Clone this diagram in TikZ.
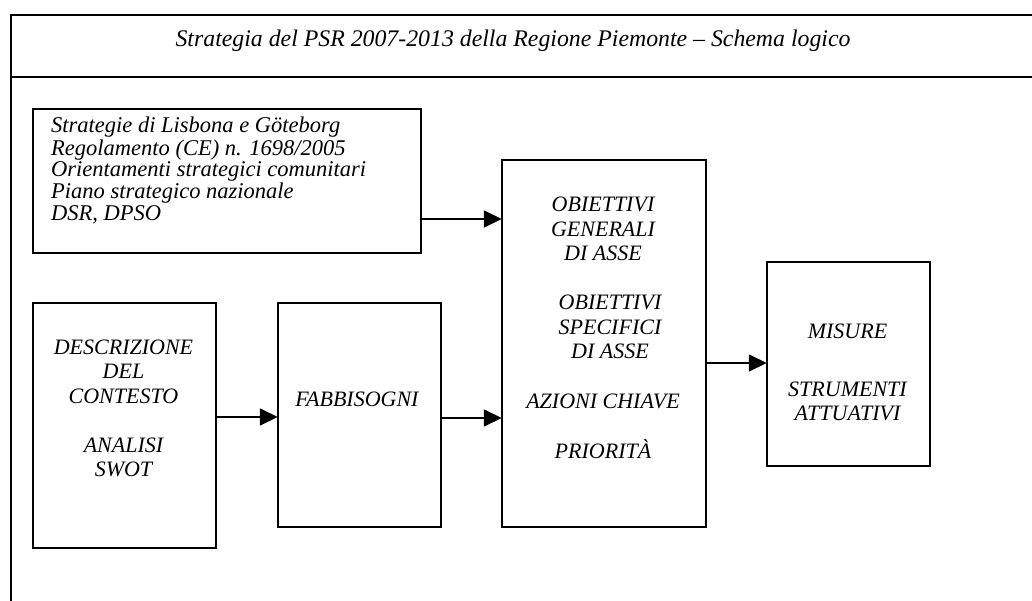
\documentclass[tikz,border=0pt]{standalone}
\usepackage{fontspec}
\setmainfont{Liberation Serif}
\usetikzlibrary{arrows.meta}
\tikzset{
  frameline/.style={line width=1.6pt, line cap=rect},
  box/.style={draw, line width=1.6pt, rectangle, inner sep=0pt, anchor=north west},
  txt/.style={inner sep=0pt, anchor=base, font=\fontsize{22}{24.5}\selectfont\itshape},
  arr/.style={line width=1.6pt, -{Triangle[length=18pt,width=17pt]}, shorten >=-0.8pt}
}
\newcommand{\boxtext}[2]{\setlength{\tabcolsep}{0pt}\begin{tabular}[t]{#1}#2\end{tabular}}
\begin{document}
\begin{tikzpicture}[x=1pt,y=-1pt]
\useasboundingbox (0,0) rectangle (1032,601);
% outer frame
\coordinate (ftl) at (11,15);
\coordinate (ftr) at (1032,15);
\coordinate (fbl) at (11,601);
\coordinate (bandl) at (11,77);
\coordinate (bandr) at (1032,77);
\draw[frameline] (ftr) -- (ftl) -- (fbl);
\draw[frameline] (bandl) -- (bandr);
\node[inner sep=0pt, anchor=base, font=\fontsize{23.8}{26}\selectfont\itshape] (title) at (513,47)
  {Strategia del PSR 2007-2013 della Regione Piemonte – Schema logico};
% boxes
\node[box, minimum width=388pt, minimum height=144pt] (ref) at (32,108) {};
\node[box, minimum width=183pt, minimum height=245pt] (ctx) at (32,302) {};
\node[box, minimum width=163pt, minimum height=224pt] (fab) at (277,302) {};
\node[box, minimum width=204pt, minimum height=367pt] (obj) at (501,159) {};
\node[box, minimum width=163pt, minimum height=204pt] (mis) at (766,261) {};
% texts
\node[inner sep=0pt, anchor=base west, font=\fontsize{22.5}{21.6}\selectfont\itshape] (reft) at (51,133)
  {\boxtext{l}{Strategie di Lisbona e Göteborg\\Regolamento (CE) n. 1698/2005\\Orientamenti strategici comunitari\\Piano strategico nazionale\\DSR, DPSO}};
\node[txt] (ctxt) at (123.5,354)
  {\boxtext{c}{DESCRIZIONE\\DEL\\CONTESTO\\ \\ANALISI\\SWOT}};
\node[txt] (fabt) at (357,406) {FABBISOGNI};
\node[txt] (objt) at (603,212)
  {\boxtext{c}{OBIETTIVI\\GENERALI\\DI ASSE\\ \\\hspace*{14pt}OBIETTIVI\\\hspace*{14pt}SPECIFICI\\\hspace*{14pt}DI ASSE\\ \\AZIONI CHIAVE\\ \\PRIORITÀ}};
\node[txt] (mist) at (847.5,338)
  {\boxtext{c}{MISURE\\[33.5pt]STRUMENTI\\ATTUATIVI}};
% connectors
\draw[arr] (ref.east |- 0,219) -- (obj.west |- 0,219);
\draw[arr] (ctx.east |- 0,417) -- (fab.west |- 0,417);
\draw[arr] (fab.east |- 0,418) -- (obj.west |- 0,418);
\draw[arr] (obj.east |- 0,363) -- (mis.west |- 0,363);
\end{tikzpicture}
\end{document}
